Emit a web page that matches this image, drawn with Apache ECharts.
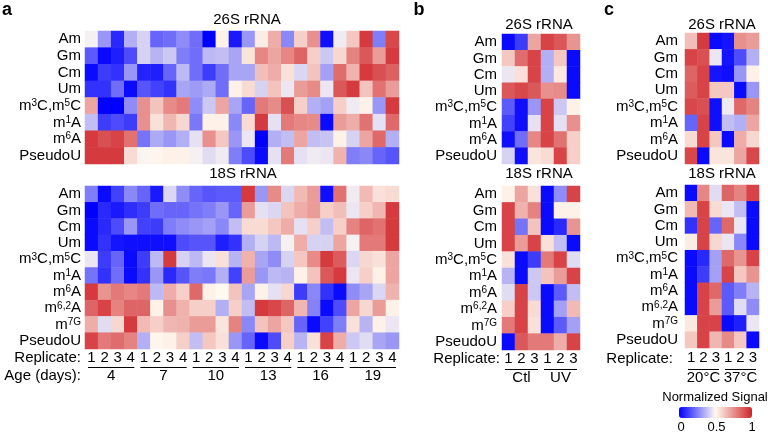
<!DOCTYPE html>
<html>
<head>
<meta charset="utf-8">
<script src="https://cdn.jsdelivr.net/npm/echarts@6/dist/echarts.min.js"></script>
<style>
  html, body { margin: 0; padding: 0; background: #fff; }
  #chart { width: 768px; height: 433px; }
</style>
</head>
<body>
<div id="chart"></div>
<script>
const font = '"Liberation Sans", Arial, Helvetica, sans-serif';

// row labels
const rows26 = ['Am', 'Gm', 'Cm', 'Um', 'm3C,m5C', 'm1A', 'm6A', 'PseudoU'];
const rows18 = ['Am', 'Gm', 'Cm', 'Um', 'm3C,m5C', 'm1A', 'm6A', 'm6,2A', 'm7G', 'PseudoU'];

// column labels
const repsA = ['1', '2', '3', '4', '1', '2', '3', '4', '1', '2', '3', '4', '1', '2', '3', '4', '1', '2', '3', '4', '1', '2', '3', '4'];
const agesA = ['4', '7', '10', '13', '16', '19'];
const repsB = ['1', '2', '3', '1', '2', '3'];
const groupsB = ['Ctl', 'UV'];
const repsC = ['1', '2', '3', '1', '2', '3'];
const groupsC = ['20°C', '37°C'];

// normalized signal, one array per row
const a26 = [
  [0.48, 0.3, 0.08, 0.35, 0.42, 0.2, 0.22, 0.28, 0.22, 0.0, 0.52, 0.05, 0.3, 0.53, 0.68, 0.27, 0.6, 0.75, 0.03, 0.47, 0.62, 0.95, 0.25, 0.92],
  [0.18, 0.02, 0.06, 0.15, 0.42, 0.36, 0.4, 0.25, 0.22, 0.37, 0.38, 0.33, 0.55, 0.77, 0.7, 0.77, 0.85, 0.6, 0.4, 0.58, 0.78, 0.88, 0.72, 0.95],
  [0.02, 0.12, 0.1, 0.3, 0.07, 0.06, 0.2, 0.37, 0.22, 0.12, 0.22, 0.33, 0.33, 0.64, 0.68, 0.56, 0.43, 0.63, 0.32, 0.83, 0.67, 0.95, 0.9, 0.86],
  [0.1, 0.1, 0.22, 0.02, 0.17, 0.13, 0.1, 0.33, 0.31, 0.34, 0.22, 0.52, 0.57, 0.42, 0.63, 0.46, 0.72, 0.76, 0.46, 0.88, 0.95, 0.63, 0.82, 0.72],
  [0.7, 0.0, 0.0, 0.28, 0.75, 0.63, 0.76, 0.8, 0.28, 0.4, 0.7, 0.33, 0.2, 0.8, 0.76, 0.9, 0.6, 0.35, 0.32, 0.6, 0.47, 0.52, 0.3, 0.95],
  [0.38, 0.12, 0.15, 0.12, 0.75, 0.56, 0.66, 0.58, 0.24, 0.52, 0.52, 0.27, 0.57, 0.95, 0.45, 0.8, 0.77, 0.76, 0.02, 0.72, 0.68, 0.82, 0.45, 0.84],
  [0.95, 0.9, 0.93, 0.82, 0.23, 0.34, 0.3, 0.35, 0.45, 0.75, 0.62, 0.3, 0.46, 0.0, 0.35, 0.38, 0.7, 0.38, 0.39, 0.52, 0.42, 0.7, 0.84, 0.35],
  [0.95, 0.95, 0.95, 0.57, 0.49, 0.51, 0.52, 0.52, 0.48, 0.44, 0.47, 0.25, 0.15, 0.02, 0.45, 0.8, 0.45, 0.47, 0.46, 0.67, 0.25, 0.27, 0.2, 0.17]
];
const a18 = [
  [0.25, 0.02, 0.13, 0.27, 0.2, 0.05, 0.43, 0.28, 0.2, 0.17, 0.18, 0.18, 0.95, 0.3, 0.76, 0.43, 0.65, 0.72, 0.03, 0.82, 0.47, 0.65, 0.56, 0.57],
  [0.0, 0.08, 0.05, 0.09, 0.12, 0.22, 0.2, 0.2, 0.23, 0.25, 0.3, 0.2, 0.72, 0.45, 0.43, 0.63, 0.68, 0.72, 0.6, 0.64, 0.46, 0.6, 0.66, 0.95],
  [0.02, 0.08, 0.15, 0.3, 0.13, 0.12, 0.25, 0.28, 0.3, 0.32, 0.27, 0.38, 0.57, 0.57, 0.62, 0.68, 0.45, 0.6, 0.38, 0.6, 0.78, 0.85, 0.82, 0.95],
  [0.02, 0.1, 0.04, 0.03, 0.03, 0.03, 0.03, 0.15, 0.17, 0.17, 0.06, 0.1, 0.35, 0.42, 0.37, 0.48, 0.68, 0.42, 0.42, 0.7, 0.48, 0.8, 0.8, 0.95],
  [0.46, 0.12, 0.2, 0.02, 0.12, 0.37, 0.95, 0.42, 0.37, 0.46, 0.56, 0.36, 0.67, 0.33, 0.28, 0.42, 0.62, 0.76, 0.95, 0.87, 0.43, 0.58, 0.56, 0.7],
  [0.23, 0.1, 0.22, 0.02, 0.1, 0.3, 0.08, 0.17, 0.25, 0.24, 0.35, 0.13, 0.72, 0.3, 0.37, 0.36, 0.52, 0.63, 0.88, 0.95, 0.46, 0.6, 0.52, 0.7],
  [0.95, 0.74, 0.8, 0.77, 0.8, 0.37, 0.68, 0.6, 0.84, 0.52, 0.5, 0.63, 0.33, 0.52, 0.45, 0.58, 0.12, 0.27, 0.1, 0.02, 0.28, 0.33, 0.43, 0.67],
  [0.85, 0.93, 0.78, 0.85, 0.85, 0.52, 0.75, 0.67, 0.6, 0.6, 0.35, 0.6, 0.38, 0.95, 0.92, 0.85, 0.66, 0.26, 0.02, 0.15, 0.7, 0.58, 0.72, 0.52],
  [0.68, 0.44, 0.58, 0.95, 0.65, 0.6, 0.66, 0.67, 0.72, 0.72, 0.55, 0.78, 0.27, 0.63, 0.7, 0.62, 0.2, 0.02, 0.13, 0.25, 0.56, 0.36, 0.52, 0.46],
  [0.93, 0.8, 0.83, 0.78, 0.35, 0.51, 0.52, 0.6, 0.38, 0.62, 0.56, 0.3, 0.2, 0.02, 0.15, 0.6, 0.36, 0.56, 0.93, 0.68, 0.4, 0.44, 0.33, 0.3]
];
const b26 = [
  [0.02, 0.12, 0.7, 0.93, 0.88, 0.74],
  [0.62, 0.83, 0.93, 0.35, 0.62, 0.02],
  [0.46, 0.56, 0.93, 0.35, 0.54, 0.02],
  [0.88, 0.92, 0.88, 0.75, 0.76, 0.02],
  [0.18, 0.03, 0.3, 0.93, 0.4, 0.52],
  [0.13, 0.03, 0.45, 0.93, 0.45, 0.75],
  [0.03, 0.22, 0.77, 0.93, 0.82, 0.6],
  [0.42, 0.03, 0.55, 0.57, 0.93, 0.6]
];
const b18 = [
  [0.52, 0.7, 0.56, 0.02, 0.28, 0.93],
  [0.93, 0.67, 0.78, 0.02, 0.52, 0.52],
  [0.93, 0.23, 0.63, 0.02, 0.08, 0.74],
  [0.93, 0.72, 0.93, 0.56, 0.38, 0.02],
  [0.56, 0.02, 0.12, 0.8, 0.93, 0.44],
  [0.36, 0.02, 0.4, 0.63, 0.72, 0.93],
  [0.44, 0.93, 0.4, 0.02, 0.18, 0.38],
  [0.6, 0.93, 0.57, 0.02, 0.32, 0.65],
  [0.8, 0.93, 0.56, 0.02, 0.18, 0.32],
  [0.02, 0.88, 0.8, 0.8, 0.68, 0.93]
];
const c26 = [
  [0.64, 0.95, 0.02, 0.04, 0.75, 0.72],
  [0.93, 0.9, 0.46, 0.04, 0.15, 0.35],
  [0.85, 0.93, 0.04, 0.03, 0.3, 0.52],
  [0.87, 0.93, 0.62, 0.62, 0.02, 0.3],
  [0.92, 0.9, 0.03, 0.47, 0.84, 0.78],
  [0.2, 0.93, 0.03, 0.38, 0.35, 0.7],
  [0.57, 0.93, 0.62, 0.02, 0.68, 0.58],
  [0.92, 0.02, 0.55, 0.55, 0.7, 0.92]
];
const c18 = [
  [0.02, 0.77, 0.44, 0.85, 0.78, 0.93],
  [0.65, 0.93, 0.57, 0.46, 0.38, 0.02],
  [0.1, 0.93, 0.2, 0.84, 0.46, 0.02],
  [0.53, 0.93, 0.58, 0.46, 0.27, 0.02],
  [0.02, 0.08, 0.32, 0.84, 0.74, 0.93],
  [0.02, 0.12, 0.32, 0.93, 0.62, 0.74],
  [0.02, 0.93, 0.84, 0.18, 0.25, 0.36],
  [0.02, 0.93, 0.72, 0.18, 0.44, 0.28],
  [0.54, 0.93, 0.93, 0.02, 0.06, 0.46],
  [0.62, 0.93, 0.66, 0.76, 0.62, 0.02]
];

const legendTicks = ['0', '0.5', '1'];
const colors = ['#0000ff', '#fffaf0', '#d0252a'];

// superscripts in row labels
const richNames = {
  'm3C,m5C': 'm{s|3}C,m{s|5}C',
  'm1A': 'm{s|1}A',
  'm6A': 'm{s|6}A',
  'm6,2A': 'm{s|6,2}A',
  'm7G': 'm{s|7G}'
};

// panel layout: [left, width, top26, height26, top18, height18, labelMargin]
const panels = [
  { left: 85, width: 314, t26: 31, h26: 133, t18: 186, h18: 163, margin: 4, xm: 1, reps: repsA, m26: a26, m18: a18 },
  { left: 502, width: 78, t26: 34, h26: 130, t18: 186, h18: 164, margin: 5, xm: 1, reps: repsB, m26: b26, m18: b18 },
  { left: 685, width: 74, t26: 33, h26: 131, t18: 185, h18: 163, margin: 7, xm: 2, reps: repsC, m26: c26, m18: c18 }
];

const toCells = m => {
  const out = [];
  m.forEach((row, r) => row.forEach((v, c) => out.push([c, r, v])));
  return out;
};

const grids = [];
const xAxes = [];
const yAxes = [];
const series = [];

panels.forEach(p => {
  [['26', p.t26, p.h26, rows26, p.m26], ['18', p.t18, p.h18, rows18, p.m18]].forEach(([k, top, h, rows, m]) => {
    const gi = grids.length;
    grids.push({ left: p.left, width: p.width, top: top, height: h });
    xAxes.push({
      type: 'category',
      gridIndex: gi,
      data: p.reps,
      axisLine: { show: false },
      axisTick: { show: false },
      splitLine: { show: false },
      axisLabel: {
        show: k === '18',
        interval: 0,
        margin: p.xm,
        fontSize: 15,
        fontFamily: font,
        color: '#000'
      }
    });
    yAxes.push({
      type: 'category',
      gridIndex: gi,
      data: rows,
      inverse: true,
      axisLine: { show: false },
      axisTick: { show: false },
      splitLine: { show: false },
      axisLabel: {
        interval: 0,
        margin: p.margin,
        fontSize: 15,
        fontFamily: font,
        color: '#000',
        formatter: v => richNames[v] || v,
        rich: {
          s: { fontSize: 10, fontFamily: font, color: '#000', verticalAlign: 'top', lineHeight: 9 }
        }
      }
    });
    series.push({
      type: 'heatmap',
      xAxisIndex: gi,
      yAxisIndex: gi,
      data: toCells(m),
      itemStyle: { borderWidth: 0 },
      emphasis: { disabled: true }
    });
  });
});

const txt = (text, x, y, align, size, weight) => ({
  type: 'text',
  x: x,
  y: y,
  silent: true,
  style: {
    text: text,
    textAlign: align || 'center',
    textVerticalAlign: 'middle',
    font: (weight || 'normal') + ' ' + (size || 15) + 'px ' + font,
    fill: '#000'
  }
});
const hline = (x1, x2, y) => ({
  type: 'line',
  silent: true,
  shape: { x1: x1, y1: y, x2: x2, y2: y },
  style: { stroke: '#000', lineWidth: 1 }
});

const graphics = [
  txt('a', 7, 10, 'center', 18, 'bold'),
  txt('b', 419, 10, 'center', 18, 'bold'),
  txt('c', 609, 10, 'center', 18, 'bold'),
  txt('26S rRNA', 247, 20), txt('18S rRNA', 243, 174),
  txt('26S rRNA', 539, 25), txt('18S rRNA', 539, 174),
  txt('26S rRNA', 722, 25), txt('18S rRNA', 722, 174),
  txt('Replicate:', 81, 358, 'right'),
  txt('Age (days):', 81, 376, 'right'),
  txt('Replicate:', 500, 359, 'right'),
  txt('Replicate:', 673, 359, 'right'),
  txt('Normalized Signal', 715, 397, 'center', 13)
];

// group underlines and labels, spaced by the panel's cell width
const addGroups = (p, names, lineY, labelY) => {
  const per = p.reps.length / names.length;
  const cw = p.width / p.reps.length;
  names.forEach((n, i) => {
    const x0 = p.left + i * per * cw;
    const x1 = x0 + per * cw;
    graphics.push(hline(x0 + 3, x1 - 3, lineY));
    graphics.push(txt(n, (x0 + x1) / 2, labelY));
  });
};
addGroups(panels[0], agesA, 367.5, 376);
addGroups(panels[1], groupsB, 369.5, 378);
addGroups(panels[2], groupsC, 369.5, 378);

// legend tick labels
legendTicks.forEach((t, i) => {
  graphics.push(txt(t, 681 + i * 35.5, 427, 'center', 13));
});

const option = {
  backgroundColor: '#fff',
  animation: false,
  grid: grids,
  xAxis: xAxes,
  yAxis: yAxes,
  visualMap: {
    type: 'continuous',
    min: 0,
    max: 1,
    orient: 'horizontal',
    left: 679,
    top: 407,
    padding: 0,
    itemWidth: 11,
    itemHeight: 73,
    calculable: false,
    hoverLink: false,
    text: null,
    showLabel: false,
    inRange: { color: colors }
  },
  graphic: graphics,
  series: series
};

const chart = echarts.init(document.getElementById('chart'), null, { renderer: 'canvas' });
chart.setOption(option);
</script>
</body>
</html>
